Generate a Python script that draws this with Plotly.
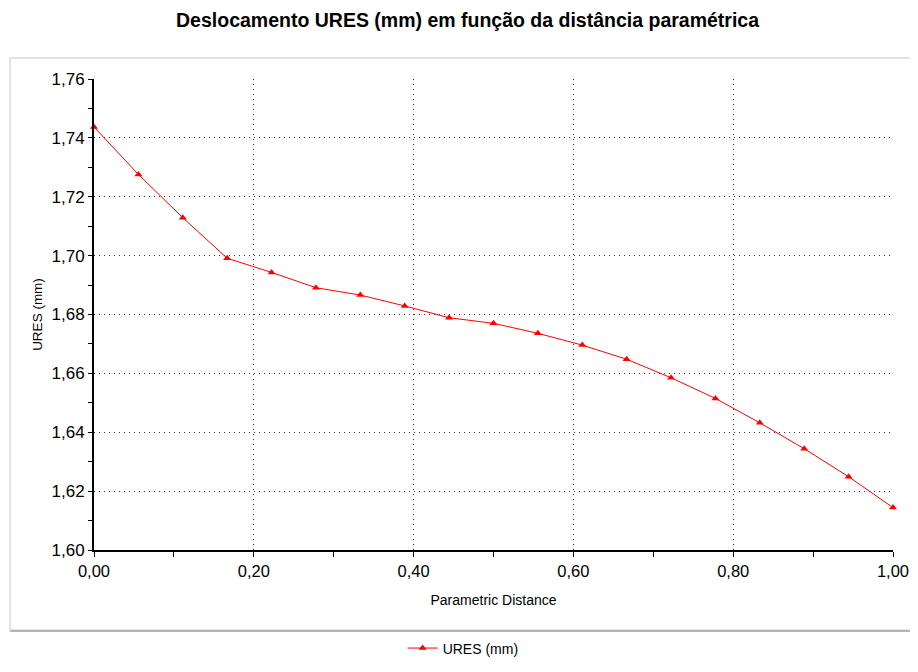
import plotly.graph_objects as go

x_vals = [i / 18 for i in range(19)]
ures = [1.7437, 1.7276, 1.7129, 1.6991, 1.6943, 1.6891, 1.6866, 1.6829, 1.6789,
        1.6770, 1.6736, 1.6696, 1.6648, 1.6585, 1.6515, 1.6432, 1.6344, 1.6249, 1.6144]
series_name = "URES (mm)"
title_text = "Deslocamento URES (mm) em função da distância paramétrica"
x_title = "Parametric Distance"
y_title = "URES (mm)"

fig = go.Figure()
fig.add_trace(go.Scatter(
    x=x_vals, y=ures, mode="lines+markers", name=series_name,
    line=dict(color="#ff0000", width=1),
    marker=dict(symbol="triangle-up", size=7, color="#ff0000"),
    cliponaxis=False,
))

font_family = "Liberation Sans, Arial, sans-serif"
fig.update_layout(
    width=910, height=656,
    paper_bgcolor="white", plot_bgcolor="white",
    separators=",.",
    margin=dict(l=86, r=25, t=71, b=114, autoexpand=False),
    title=dict(text="<b>" + title_text + "</b>", x=0.505, xanchor="center", y=0.982, yanchor="middle",
               font=dict(family=font_family, size=19.5, color="black")),
    showlegend=True,
    legend=dict(orientation="h", x=0.462, xanchor="center", y=-0.243, yanchor="bottom",
                font=dict(family=font_family, size=14, color="black")),
    font=dict(family=font_family, color="black"),
)

fig.update_xaxes(
    range=[0, 1], dtick=0.2, tickformat=".2f",
    showline=True, linecolor="black", linewidth=2,
    ticks="outside", ticklen=5, tickcolor="black",
    showgrid=True, gridcolor="#333333", griddash="1px,4px", gridwidth=1,
    zeroline=False,
    tickfont=dict(family=font_family, size=16.5, color="black"),
    title=dict(text=x_title, font=dict(family=font_family, size=14, color="black"), standoff=16),
    minor=dict(dtick=0.1, ticks="outside", ticklen=5, tickcolor="black", showgrid=False),
)
fig.update_yaxes(
    range=[1.60, 1.76], dtick=0.02, tickformat=".2f",
    showline=True, linecolor="black", linewidth=2,
    ticks="outside", ticklen=4, tickcolor="black",
    showgrid=True, gridcolor="#333333", griddash="1px,4px", gridwidth=1,
    zeroline=False,
    tickfont=dict(family=font_family, size=17, color="black"),
    title=dict(text=y_title, font=dict(family=font_family, size=13.5, color="black"), standoff=6),
    minor=dict(dtick=0.01, ticks="outside", ticklen=4, tickcolor="black", showgrid=False),
)

# panel frame
fig.add_shape(type="rect", xref="paper", yref="paper",
              x0=-0.105, x1=1.04, y0=-0.170, y1=1.0446,
              line=dict(color="#e2e2e2", width=2), fillcolor="rgba(0,0,0,0)", layer="below")
fig.add_shape(type="line", xref="paper", yref="paper",
              x0=-0.105, x1=1.04, y0=-0.172, y1=-0.172,
              line=dict(color="#b5b5b5", width=2))

fig.write_html("out.html")
